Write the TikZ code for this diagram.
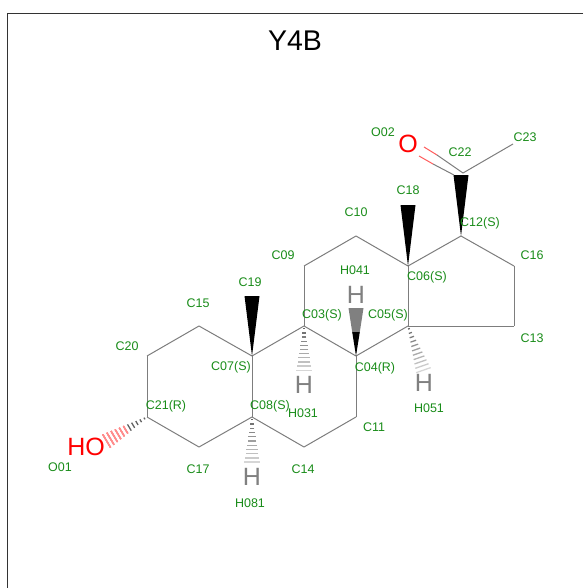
\documentclass[tikz,border=0pt]{standalone}
\usepackage{fontspec}
\setmainfont{Liberation Sans}
\usetikzlibrary{calc}
\definecolor{labelgreen}{RGB}{25,140,25}
\definecolor{bondgray}{RGB}{125,125,125}
\colorlet{hashdark}{black!62}
\colorlet{hashpale}{black!14}
\colorlet{hashpink}{red!45}
\tikzset{
  bond/.style={draw=bondgray,line width=1pt},
  wedge/.style={fill=black},
  atomlabel/.style={text=labelgreen,inner sep=0pt,font=\fontsize{12.5}{14}\selectfont},
  hatom/.style={text=gray,inner sep=0pt,font=\fontsize{25}{27}\selectfont},
  oatom/.style={text=red,inner sep=0pt,font=\fontsize{25}{27}\selectfont}
}
% one stripe: from, to, position, colour
\newcommand{\hashstripe}[4]{
  \pgfmathsetmacro{\w}{0.5+7.5*#3}
  \coordinate (p) at ($(#1)!#3!(#2)$);
  \draw[#4,line width=1.3pt] ($(p)!\w pt!90:(#2)$) -- ($(p)!\w pt!-90:(#2)$);
}
% hash bond fading out
\newcommand{\hashbond}[2]{
  \foreach \t in {0.06,0.15,...,0.98} {
    \pgfmathsetmacro{\c}{100-100*\t}
    \hashstripe{#1}{#2}{\t}{hashdark!\c!hashpale}
  }
}
\begin{document}
\begin{tikzpicture}[x=1pt,y=-1pt]
\useasboundingbox (0,0) rectangle (583,588);
\draw[line width=0.9pt,black!80] (583,13) -- (7,13) -- (7,588);
\node[inner sep=0pt,font=\fontsize{28.5}{30}\selectfont] (title) at (295,40.5) {Y4B};
% ring atoms
\foreach \n/\x/\y in {c21/147/417,c20/147/356,c15/199/326,c07/252/356,c08/252/417,c17/199/447,
  c14/304/447,c11/356/417,c04/356/356,c03/304/326,c09/304/266,c10/356/236,c06/408/266,
  c05/408/326,c13/514/326,c16/514/266,c12/461/236,c22/461/175,c23/513/144,
  c19/252/296,c18/408/205,t04/356/308,m04/356/332,h03/304/372,h05/424/372,h08/252/464,ho/105/442}
  \coordinate (\n) at (\x,\y);
\foreach \a/\b in {c21/c20,c20/c15,c15/c07,c07/c08,c08/c17,c17/c21,c08/c14,c14/c11,c11/c04,
  c04/c03,c03/c07,c03/c09,c09/c10,c10/c06,c06/c05,c05/c04,c05/c13,c13/c16,c16/c12,c12/c06}
  \draw[bond] (\a) -- (\b);
% wedges
\foreach \a/\b in {c07/c19,c06/c18,c12/c22}
  \fill[wedge] (\a) -- ($(\b)+(7.5,0)$) -- ($(\b)-(7.5,0)$) -- cycle;
\fill[gray] ($(t04)+(7.5,0)$) -- ($(t04)-(7.5,0)$) -- ($(m04)-(3.8,0)$) -- ($(m04)+(3.8,0)$) -- cycle;
\fill[wedge] (c04) -- ($(m04)+(3.8,0)$) -- ($(m04)-(3.8,0)$) -- cycle;
% hash bonds
\hashbond{c03}{h03}
\hashbond{c05}{h05}
\hashbond{c08}{h08}
\foreach \t in {0.06,0.15,0.24,0.33,0.42}
  \hashstripe{c21}{ho}{\t}{hashdark}
\foreach \t in {0.51,0.60,0.69,0.78,0.87,0.96}
  \hashstripe{c21}{ho}{\t}{hashpink}
% carbonyl
\coordinate (o1) at (424,147);
\coordinate (o1m) at (437,155);
\coordinate (o1e) at (463,173);
\coordinate (o2) at (419,156);
\coordinate (o2m) at (433,164);
\coordinate (o2e) at (454,175);
\draw[bond,draw=red!65] (o1) -- (o1m);
\draw[bond] (o1m) -- (o1e);
\draw[bond,draw=red!65] (o2) -- (o2m);
\draw[bond] (o2m) -- (o2e);
\draw[bond] (o1e) -- (c23);
% drawn atoms
\node[hatom] (hh04) at (356,295) {H};
\node[hatom] (hh03) at (304,385) {H};
\node[hatom] (hh05) at (424,383) {H};
\node[hatom] (hh08) at (252,477) {H};
\node[oatom] (oh) at (86,447) {HO};
\node[oatom] (o) at (408,143.5) {O};
% labels
\foreach \n/\x/\y/\t in {C15/198/303/C15,C20/127/346/C20,C19/250/282/C19,C07/231/367/C07(S),
  C21/166/406/C21(R),C08/270/406/C08(S),O01/60/467/O01,C17/198/469/C17,H081/250/503/H081,
  C14/303/469/C14,H031/303/413/H031,C11/374/427/C11,C04/375/368/C04(R),C03/322/315/C03(S),
  C05/388/315/C05(S),H051/429/408/H051,H041/355/270/H041,C09/283/255/C09,C10/356/212/C10,
  C18/408/190/C18,C06/427/277/C06(S),C12/480/223/C12(S),C16/532/255/C16,C13/532/338/C13,
  C22/460/152/C22,C23/525/137/C23,O02/383/132/O02}
  \node[atomlabel] (l\n) at (\x,\y) {\t};
\end{tikzpicture}
\end{document}
